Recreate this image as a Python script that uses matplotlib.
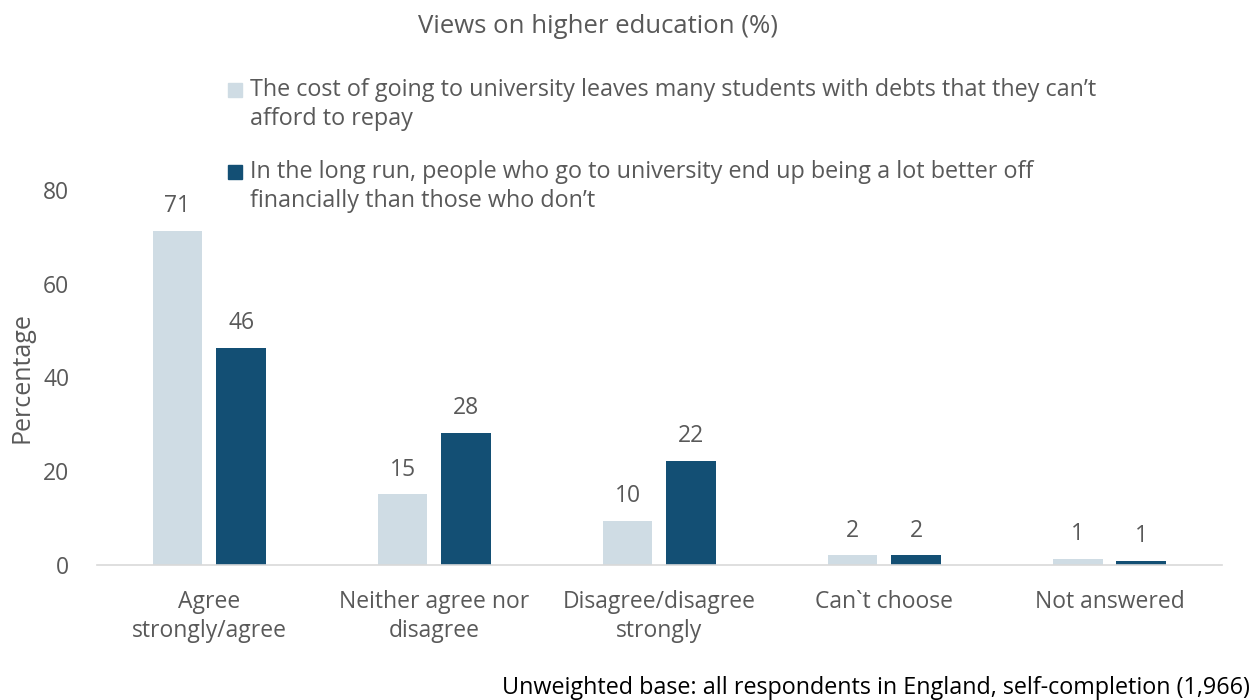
import numpy as np
import matplotlib.pyplot as plt
from matplotlib.patches import Rectangle

categories = ['Agree\nstrongly/agree', 'Neither agree nor\ndisagree',
              'Disagree/disagree\nstrongly', 'Can`t choose', 'Not answered']
cost_debts = [71.3, 15.1, 9.4, 2.1, 1.3]
better_off = [46.3, 28.2, 22.2, 2.1, 0.9]
cost_labels = ['71', '15', '10', '2', '1']
better_labels = ['46', '28', '22', '2', '1']
series_names = ['The cost of going to university leaves many students with debts that they can\u2019t\nafford to repay',
                'In the long run, people who go to university end up being a lot better off\nfinancially than those who don\u2019t']

plt.rcParams['font.family'] = ['Open Sans', 'DejaVu Sans']
grey = '#595959'
light = '#CFDCE4'
dark = '#134F74'
fs = 16.5

fig = plt.figure(figsize=(12.59, 7.0), dpi=100)
ax = fig.add_axes([0.077, 0.193, 0.8936, 0.5357])

x = np.arange(len(categories))
w = 0.222
off = 0.142
b1 = ax.bar(x - off, cost_debts, w, color=light)
b2 = ax.bar(x + off, better_off, w, color=dark)

for bars, labs in ((b1, cost_labels), (b2, better_labels)):
    for r, t in zip(bars, labs):
        ax.annotate(t, (r.get_x() + r.get_width() / 2, r.get_height()),
                    xytext=(0, 9), textcoords='offset points',
                    ha='center', va='bottom', fontsize=fs, color=grey)

ax.set_xlim(-0.5, len(categories) - 0.5)
ax.set_ylim(0, 80)
ax.set_yticks([0, 20, 40, 60, 80])
ax.set_xticks(x)
ax.set_xticklabels(categories, fontsize=fs, color=grey, linespacing=1.3)
ax.tick_params(axis='both', length=0, labelsize=fs, labelcolor=grey)
ax.tick_params(axis='x', pad=18)
ax.tick_params(axis='y', pad=20)
for s in ('top', 'right', 'left'):
    ax.spines[s].set_visible(False)
ax.spines['bottom'].set_color('#D9D9D9')
ax.spines['bottom'].set_linewidth(1.2)
ax.set_ylabel('Percentage', fontsize=18, color=grey, labelpad=6)

fig.text(0.475, 0.962, 'Views on higher education (%)', ha='center', va='center',
         fontsize=18.5, color=grey)

# legend drawn by hand so the swatch sits beside the first line of text
for name, col, ytop in ((series_names[0], light, 0.8885), (series_names[1], dark, 0.7714)):
    ymid = ytop - 12 / 700
    fig.patches.append(Rectangle((228 / 1259, ymid - 7 / 700), 14 / 1259, 14 / 700,
                                 transform=fig.transFigure, color=col))
    fig.text(250 / 1259, ytop, name, ha='left', va='top', fontsize=16.8,
             color=grey, linespacing=1.27)

fig.text(0.993, 0.017, 'Unweighted base: all respondents in England, self-completion (1,966)',
         ha='right', va='center', fontsize=16.8, color='black')

plt.savefig('out.png', dpi=100)
plt.close()
